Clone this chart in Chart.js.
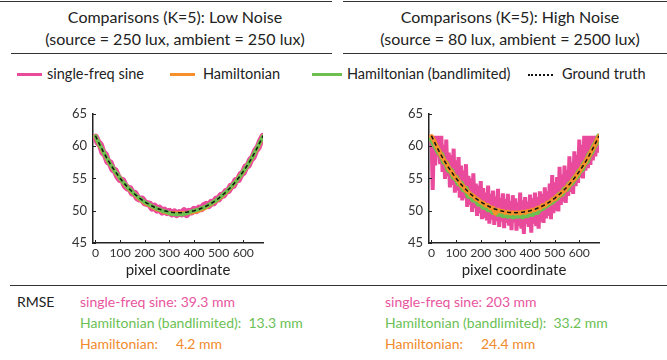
<!DOCTYPE html>
<html>
<head>
<meta charset="utf-8">
<script src="https://cdn.jsdelivr.net/npm/chart.js@4"></script>
<style>
  body { margin: 0; width: 667px; height: 360px; background: #fff; position: relative; overflow: hidden; font-family: Lato, "Open Sans", sans-serif; color: #222; }
  .rule { position: absolute; height: 0; border-top: 1.5px solid #333; }
  .title { position: absolute; top: 6px; width: 330px; text-align: center; font-size: 16px; line-height: 22px; }
  .legend { position: absolute; top: 65px; left: 0; width: 667px; height: 18px; font-size: 14.5px; }
  .legend span { position: absolute; top: 0; line-height: 18px; white-space: nowrap; }
  .legend i { position: absolute; top: 8px; height: 0; border-top: 3px solid; }
  canvas { position: absolute; }
  .rmse { position: absolute; top: 292px; font-size: 14px; line-height: 20.8px; white-space: pre; }
</style>
</head>
<body>
<div class="rule" style="top:1px;left:0;width:332px"></div>
<div class="rule" style="top:1px;left:343px;width:324px"></div>
<div class="title" style="left:10px">Comparisons (K=5): Low Noise<br>(source = 250 lux, ambient = 250 lux)</div>
<div class="title" style="left:345px">Comparisons (K=5): High Noise<br>(source = 80 lux, ambient = 2500 lux)</div>
<div class="rule" style="top:53px;left:11px;width:321px"></div>
<div class="rule" style="top:53px;left:343px;width:324px"></div>

<div class="legend">
  <i style="left:17px;width:25px;border-color:#ea4a9b"></i><span style="left:47px">single-freq sine</span>
  <i style="left:170px;width:25px;border-color:#f7902a"></i><span style="left:203px">Hamiltonian</span>
  <i style="left:312px;width:30px;border-color:#6dbf4f"></i><span style="left:347px">Hamiltonian (bandlimited)</span>
  <i style="left:528px;width:25px;border-top:2px dotted #111;top:9px"></i><span style="left:562px">Ground truth</span>
</div>

<canvas id="low" width="220" height="182" style="left:55px;top:100px"></canvas>
<canvas id="high" width="220" height="182" style="left:391px;top:100px"></canvas>

<div class="rule" style="top:285px;left:10px;width:657px"></div>
<div class="rmse" style="left:17px">RMSE</div>
<div class="rmse" id="rmseLow" style="left:80px"></div>
<div class="rmse" id="rmseHigh" style="left:385px"></div>

<script>
const PINK = "#ea4a9b", ORANGE = "#f7902a", GREEN = "#6dbf4f";

// pixel positions along the scanline
const pixelX = [0, 10, 20, 30, 40, 50, 60, 70, 80, 90, 100, 110, 120, 130, 140, 150, 160, 170, 180, 190,
  200, 210, 220, 230, 240, 250, 260, 270, 280, 290, 300, 310, 320, 330, 340, 350, 360, 370, 380, 390,
  400, 410, 420, 430, 440, 450, 460, 470, 480, 490, 500, 510, 520, 530, 540, 550, 560, 570, 580, 590,
  600, 610, 620, 630, 640, 650, 660, 670, 680];
const pixelXHalf = [5, 15, 25, 35, 45, 55, 65, 75, 85, 95, 105, 115, 125, 135, 145, 155, 165, 175, 185, 195,
  205, 215, 225, 235, 245, 255, 265, 275, 285, 295, 305, 315, 325, 335, 345, 355, 365, 375, 385, 395,
  405, 415, 425, 435, 445, 455, 465, 475, 485, 495, 505, 515, 525, 535, 545, 555, 565, 575, 585, 595,
  605, 615, 625, 635, 645, 655, 665, 675];

const xTicks = [0, 100, 200, 300, 400, 500, 600];
const yTicks = [45, 50, 55, 60, 65];

// depth in mm (ground truth)
const groundTruth = [61.60, 60.78, 60.00, 59.26, 58.55, 57.88, 57.25, 56.65, 56.08, 55.54,
  55.03, 54.55, 54.10, 53.67, 53.27, 52.90, 52.55, 52.23, 51.92, 51.64,
  51.38, 51.14, 50.92, 50.72, 50.54, 50.38, 50.23, 50.11, 50.00, 49.91,
  49.83, 49.77, 49.73, 49.71, 49.70, 49.71, 49.73, 49.77, 49.83, 49.91,
  50.00, 50.11, 50.23, 50.38, 50.54, 50.72, 50.92, 51.14, 51.38, 51.64,
  51.92, 52.23, 52.55, 52.90, 53.27, 53.67, 54.10, 54.55, 55.03, 55.54,
  56.08, 56.65, 57.25, 57.88, 58.55, 59.26, 60.00, 60.78, 61.60];

// low noise reconstructions
const sineLow = [61.4, 60.6, 60.2, 59.0, 58.7, 57.6, 57.4, 56.4, 56.2, 55.3,
  54.8, 54.7, 53.9, 53.5, 53.4, 52.7, 52.7, 52.0, 51.8, 51.8,
  51.2, 51.1, 51.0, 50.4, 50.7, 50.1, 50.4, 49.8, 50.1, 49.7,
  49.9, 49.5, 49.8, 49.4, 49.7, 49.5, 50.0, 49.4, 49.9, 49.8,
  50.2, 50.0, 50.4, 50.3, 50.8, 51.0, 50.8, 51.3, 51.2, 51.8,
  51.8, 52.4, 52.4, 53.0, 53.1, 53.8, 53.9, 54.7, 54.8, 55.6,
  55.9, 56.8, 57.0, 57.9, 58.3, 59.3, 59.8, 60.8, 61.5];
const bandLow = [61.5, 60.7, 60.0, 59.3, 58.5, 57.9, 57.2, 56.7, 56.0, 55.6,
  55.0, 54.5, 54.1, 53.6, 53.3, 52.9, 52.5, 52.2, 51.9, 51.6,
  51.3, 51.1, 50.9, 50.7, 50.5, 50.3, 50.2, 50.0, 49.9, 49.8,
  49.6, 49.5, 49.5, 49.4, 49.5, 49.4, 49.5, 49.6, 49.7, 49.9,
  50.0, 50.1, 50.2, 50.4, 50.5, 50.7, 50.9, 51.1, 51.4, 51.6,
  51.9, 52.2, 52.6, 52.9, 53.3, 53.7, 54.1, 54.5, 55.0, 55.5,
  56.1, 56.6, 57.2, 57.9, 58.5, 59.3, 60.0, 60.8, 61.5];
const hamLow = [61.5, 60.7, 59.9, 59.2, 58.5, 57.8, 57.2, 56.6, 56.0, 55.5,
  55.0, 54.5, 54.0, 53.6, 53.2, 52.8, 52.5, 52.1, 51.8, 51.5,
  51.2, 51.0, 50.8, 50.6, 50.4, 50.2, 50.1, 49.9, 49.8, 49.7,
  49.6, 49.6, 49.6, 49.6, 49.6, 49.6, 49.6, 49.6, 49.7, 49.7,
  49.8, 49.9, 50.0, 50.2, 50.3, 50.5, 50.8, 51.0, 51.3, 51.5,
  51.8, 52.1, 52.5, 52.8, 53.2, 53.6, 54.0, 54.5, 55.0, 55.5,
  56.0, 56.6, 57.2, 57.8, 58.5, 59.2, 59.9, 60.7, 61.5];

// high noise reconstructions; the sine estimate swings between upper and lower samples
const sineHighTop = [61.6, 61.6, 61.6, 61.6, 61.6, 60.2, 61.0, 59.0, 58.6, 59.6,
  57.8, 58.3, 57.0, 56.2, 57.2, 55.4, 55.0, 55.8, 54.2, 53.9,
  54.6, 53.5, 52.8, 53.9, 52.6, 53.1, 52.2, 53.4, 52.0, 52.7,
  51.8, 52.6, 51.5, 52.4, 51.9, 51.3, 52.8, 51.6, 52.1, 51.4,
  52.5, 51.9, 52.8, 52.1, 53.0, 52.6, 53.6, 53.0, 54.2, 55.5,
  54.4, 55.2, 56.8, 55.6, 57.0, 56.3, 58.4, 57.5, 59.2, 58.6,
  61.0, 60.2, 61.6, 61.6, 61.6, 61.6, 61.6, 61.6, 60.8];
const sineHighBottom = [53.2, 57.0, 58.4, 57.2, 56.0, 54.9, 55.3, 53.6, 54.0, 52.8,
  53.1, 52.0, 51.6, 51.9, 50.6, 50.9, 49.8, 50.4, 49.2, 49.6,
  48.7, 48.9, 48.5, 48.0, 48.6, 47.8, 48.4, 47.5, 48.3, 47.3,
  48.1, 47.7, 47.0, 48.2, 46.9, 47.6, 47.2, 46.4, 47.9, 47.5,
  46.6, 48.0, 47.6, 47.2, 48.3, 48.1, 48.8, 49.2, 48.7, 49.6,
  50.0, 49.9, 50.9, 51.4, 51.2, 52.3, 52.9, 52.6, 53.8, 54.3,
  55.1, 55.0, 56.2, 56.6, 57.1, 57.8, 58.4, 59.0];
const bandHigh = [61.2, 60.4, 59.8, 59.0, 58.7, 57.6, 57.3, 56.3, 56.2, 55.2,
  55.1, 54.2, 54.2, 53.3, 53.4, 52.3, 52.4, 51.7, 51.8, 51.1,
  51.2, 50.6, 50.8, 50.2, 50.3, 49.8, 50.0, 49.5, 49.6, 49.3,
  49.4, 49.2, 49.4, 49.1, 49.3, 49.2, 49.4, 49.1, 49.4, 49.3,
  49.6, 49.5, 49.9, 49.8, 50.3, 50.4, 50.7, 50.9, 51.2, 51.4,
  51.8, 52.0, 52.5, 52.6, 53.3, 53.4, 54.1, 54.3, 55.0, 55.3,
  56.1, 56.4, 57.3, 57.6, 58.6, 59.1, 60.0, 60.6, 61.5];
const hamHigh = [61.5, 60.9, 60.0, 59.3, 58.5, 57.9, 57.3, 56.6, 56.1, 55.5,
  55.0, 54.6, 54.0, 53.7, 53.1, 52.9, 52.4, 52.3, 51.8, 51.7,
  51.3, 51.2, 50.8, 50.8, 50.4, 50.4, 49.6, 50.1, 49.9, 49.9,
  49.7, 49.8, 49.6, 49.7, 49.6, 49.7, 49.6, 49.8, 49.7, 49.9,
  49.9, 50.1, 50.1, 50.4, 50.4, 50.8, 50.8, 51.2, 51.3, 51.7,
  51.8, 52.3, 52.4, 52.9, 53.1, 53.7, 54.0, 54.6, 54.9, 55.6,
  56.0, 56.7, 57.2, 57.9, 58.5, 59.3, 59.9, 60.8, 61.5];

// RMSE values (mm)
const rmseLow = { sine: "39.3", band: "13.3", ham: "4.2" };
const rmseHigh = { sine: "203", band: "33.2", ham: "24.4" };

function pts(xs, ys) {
  return xs.map((x, i) => ({ x, y: ys[i] }));
}

// interleave upper and lower samples into one jagged trace
function zigzag(top, bottom) {
  const out = [];
  top.forEach((y, i) => {
    out.push({ x: pixelX[i], y });
    if (i < bottom.length) out.push({ x: pixelXHalf[i], y: bottom[i] });
  });
  return out;
}

function lineSet(data, color, width, order, extra) {
  return Object.assign({
    data, borderColor: color, borderWidth: width, order,
    pointRadius: 0, tension: 0, fill: false, borderJoinStyle: "round", borderCapStyle: "round"
  }, extra || {});
}

// short inward tick marks on both axes
const innerTicks = {
  id: "innerTicks",
  afterDraw(chart) {
    const { ctx, chartArea: a, scales } = chart;
    ctx.save();
    ctx.strokeStyle = "#222";
    ctx.lineWidth = 1;
    ctx.beginPath();
    xTicks.forEach(v => {
      const px = Math.round(scales.x.getPixelForValue(v)) + 0.5;
      ctx.moveTo(px, a.bottom);
      ctx.lineTo(px, a.bottom - 3);
    });
    yTicks.forEach(v => {
      const py = Math.round(scales.y.getPixelForValue(v)) + 0.5;
      ctx.moveTo(a.left, py);
      ctx.lineTo(a.left + 3, py);
    });
    ctx.stroke();
    ctx.restore();
  }
};

function makeChart(id, datasets) {
  new Chart(document.getElementById(id), {
    type: "line",
    data: { datasets },
    plugins: [innerTicks],
    options: {
      responsive: false,
      animation: false,
      devicePixelRatio: 1,
      layout: { padding: { top: 7, right: 12, left: 0, bottom: 0 } },
      plugins: { legend: { display: false }, tooltip: { enabled: false } },
      scales: {
        x: {
          type: "linear", min: -10, max: 680,
          grid: { display: false, drawTicks: false },
          border: { color: "#222", width: 1.5 },
          ticks: { color: "#333", font: { family: "Lato", size: 12.2 }, padding: 3, maxRotation: 0, autoSkip: false },
          afterBuildTicks: s => { s.ticks = xTicks.map(v => ({ value: v })); },
          afterFit: s => { s.height = 39; },
          title: { display: true, text: "pixel coordinate", color: "#222", font: { family: "Lato", size: 15 }, padding: { top: 0, bottom: 3 } }
        },
        y: {
          min: 45, max: 65,
          grid: { display: false, drawTicks: false },
          border: { color: "#222", width: 1.5 },
          ticks: { color: "#333", font: { family: "Lato", size: 13 }, padding: 6 },
          afterBuildTicks: s => { s.ticks = yTicks.map(v => ({ value: v })); },
          afterFit: s => { s.width = 38; }
        }
      }
    }
  });
}

const dashed = { borderDash: [4, 3], borderCapStyle: "butt" };
const jagged = { borderJoinStyle: "miter", borderCapStyle: "butt" };

makeChart("low", [
  lineSet(pts(pixelX, groundTruth), "#111", 1.5, 0, dashed),
  lineSet(pts(pixelX, bandLow), GREEN, 4, 1),
  lineSet(pts(pixelX, hamLow), ORANGE, 4, 2),
  lineSet(pts(pixelX, sineLow), PINK, 7, 3)
]);

makeChart("high", [
  lineSet(pts(pixelX, groundTruth), "#111", 1.5, 0, dashed),
  lineSet(pts(pixelX, hamHigh), ORANGE, 4.5, 1),
  lineSet(pts(pixelX, bandHigh), GREEN, 6, 2),
  lineSet(zigzag(sineHighTop, sineHighBottom), PINK, 4, 3, jagged)
]);

function rmseBlock(el, r, gap) {
  el.innerHTML =
    '<span style="color:#e8559e">single-freq sine: ' + r.sine + ' mm</span>\n' +
    '<span style="color:#6cbf55">Hamiltonian (bandlimited):  ' + r.band + ' mm</span>\n' +
    '<span style="color:#f08a2c">Hamiltonian:' + gap + r.ham + ' mm</span>';
}
rmseBlock(document.getElementById("rmseLow"), rmseLow, "     ");
rmseBlock(document.getElementById("rmseHigh"), rmseHigh, "     ");
</script>
</body>
</html>
